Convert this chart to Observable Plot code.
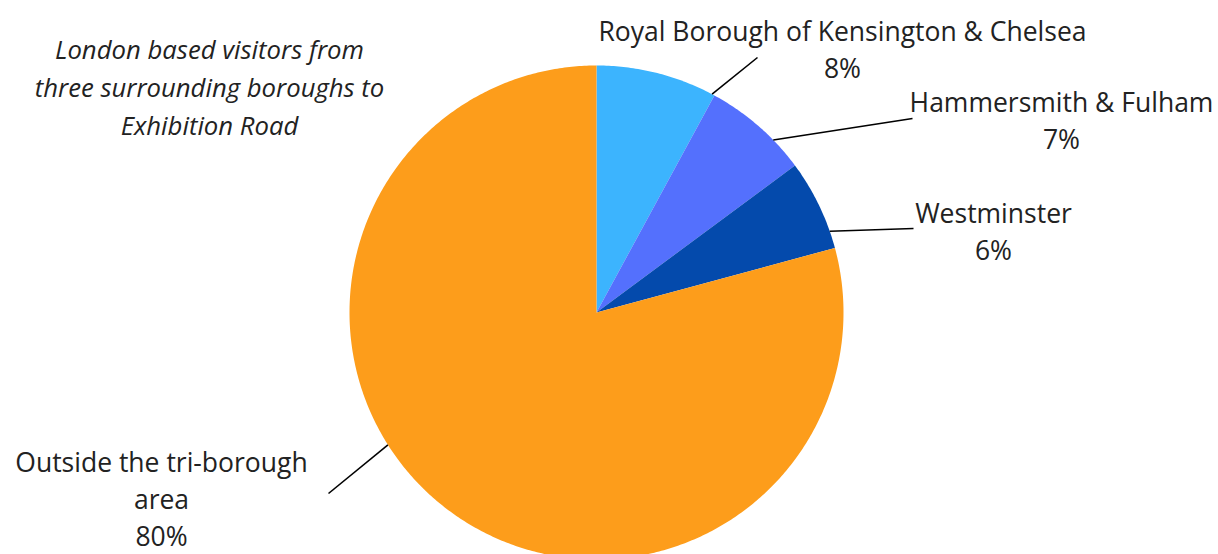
<!DOCTYPE html>
<html>
<head>
<meta charset="utf-8">
<script src="https://cdn.jsdelivr.net/npm/d3@7"></script>
<script src="https://cdn.jsdelivr.net/npm/@observablehq/plot@0.6"></script>
<style>
  html, body { margin: 0; padding: 0; background: #fff; }
  #chart svg { display: block; }
</style>
</head>
<body>
<div id="chart"></div>
<script>
// Visitor origin shares (percent)
const areas = ["Royal Borough of Kensington & Chelsea", "Hammersmith & Fulham", "Westminster", "Outside the tri-borough\narea"];
const shares = [8, 7, 6, 80];
const colors = ["#3cb4fe", "#5470fd", "#044aac", "#fd9d1b"];
const subtitle = "London based visitors from\nthree surrounding boroughs to\nExhibition Road";

const W = 1218, H = 554;
const cx = 596, cy = 312, r = 247;
const labelSize = 26.5, subtitleSize = 25.7;

// Slice angles, clockwise from 12 o'clock
const total = d3.sum(shares);
let acc = 0;
const slices = shares.map((v, i) => {
  const a0 = acc / total * 2 * Math.PI;
  acc += v;
  const a1 = acc / total * 2 * Math.PI;
  return {area: areas[i], value: v, color: colors[i], a0, a1};
});

const pt = (a, rad = r) => ({x: cx + rad * Math.sin(a), y: cy - rad * Math.cos(a)});

// Polygon outline for each slice: centre, then the arc
const polys = slices.flatMap((s, i) => {
  const n = Math.max(4, Math.ceil((s.a1 - s.a0) / 0.01));
  const pts = [{...pt(0, 0), i}];
  for (let k = 0; k <= n; ++k) pts.push({...pt(s.a0 + (s.a1 - s.a0) * k / n), i});
  pts.push({...pt(0, 0), i});
  return pts;
});

// Label placement: text centre, leader start, and where the leader meets the rim (degrees)
const labelLayout = [
  {tx: 842, ty: 47, lx: 757, ly: 57, deg: 27.9},
  {tx: 1061, ty: 118, lx: 912, ly: 118, deg: 45.7},
  {tx: 993, ty: 229, lx: 913, ly: 228, deg: 70.8},
  {tx: 161, ty: 497, lx: 328, ly: 493, deg: 237.6}
];
const labels = slices.map((s, i) => {
  const L = labelLayout[i];
  const end = pt(L.deg * Math.PI / 180);
  return {text: `${s.area}\n${s.value}%`, ...L, ex: end.x, ey: end.y};
});

const plot = Plot.plot({
  width: W,
  height: H,
  margin: 0,
  x: {type: "identity"},
  y: {type: "identity"},
  style: {fontFamily: "'Open Sans', 'Noto Sans', sans-serif", background: "#fff"},
  marks: [
    Plot.line(polys, {x: "x", y: "y", z: "i", fill: d => colors[d.i], stroke: "none", curve: "linear-closed"}),
    Plot.link(labels, {x1: "lx", y1: "ly", x2: "ex", y2: "ey", stroke: "#000", strokeWidth: 1.6}),
    Plot.text(labels, {x: "tx", y: "ty", text: "text", fontSize: labelSize, lineHeight: 1.4, fill: "#222", textAnchor: "middle"}),
    Plot.text([subtitle], {x: () => 209, y: () => 84, text: d => d, fontSize: subtitleSize, fontStyle: "italic", lineHeight: 1.48, fill: "#222", textAnchor: "middle"})
  ]
});
document.getElementById("chart").append(plot);
</script>
</body>
</html>
